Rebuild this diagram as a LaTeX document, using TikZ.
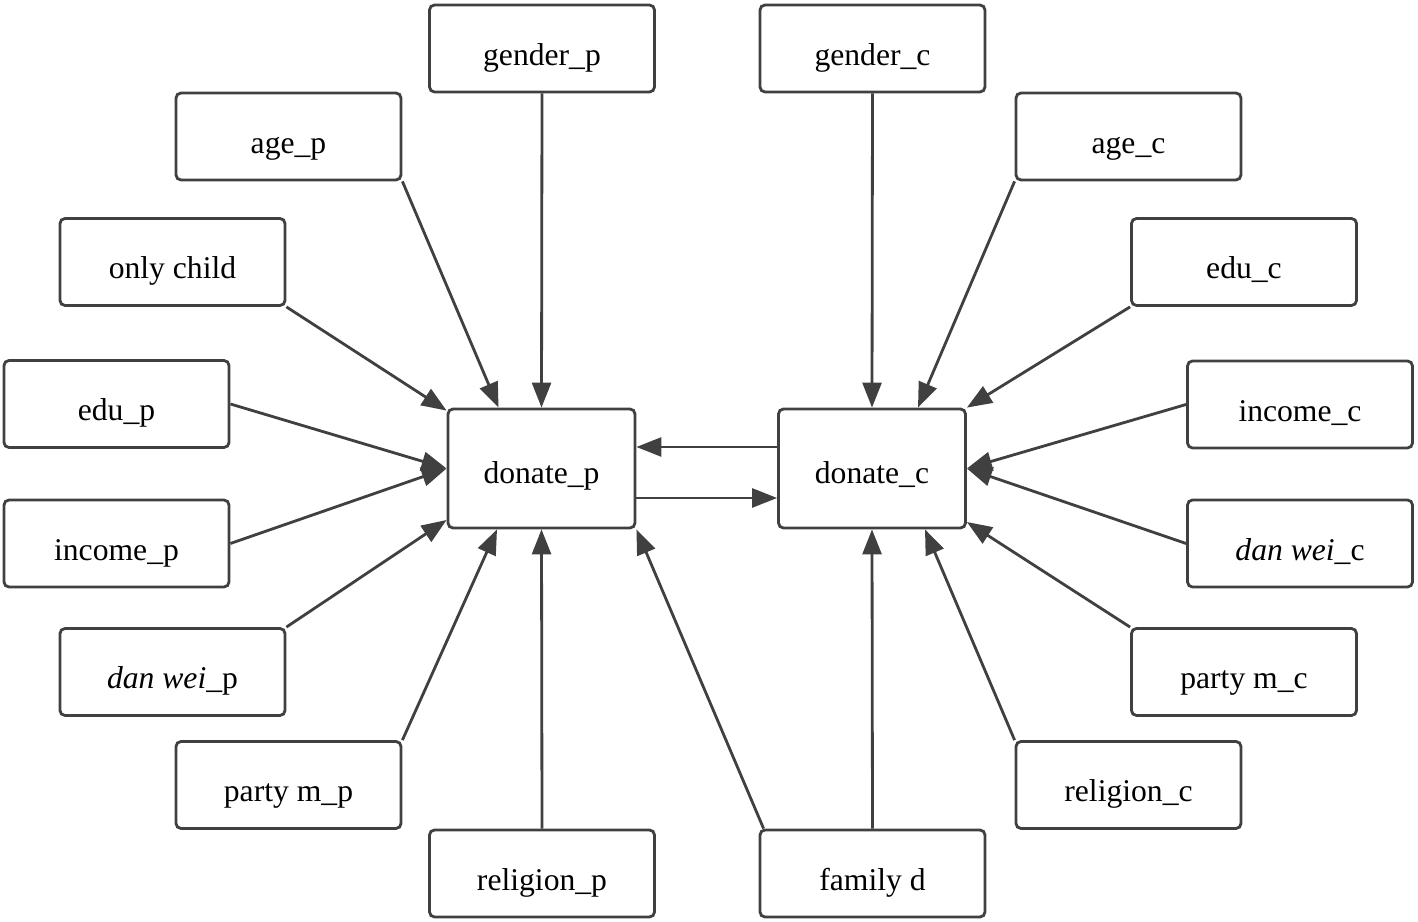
\documentclass[tikz,border=0pt]{standalone}
\usepackage{fontspec}
\setmainfont{Liberation Serif}
\usetikzlibrary{positioning,calc,arrows.meta}
\definecolor{edge}{HTML}{404040}
\tikzset{
	var/.style={draw=edge,line width=1.6pt,rounded corners=0.1cm,minimum width=4.5cm,minimum height=1.74cm,inner sep=0pt,text height=0.87cm,text depth=0.2cm,font=\fontsize{18}{21}\selectfont},
	hub/.style={var,minimum width=3.74cm,minimum height=2.38cm,text height=0.82cm},
	arr/.style={draw=edge,line width=1.6pt,-{Triangle[length=0.5cm,width=0.38cm]}}
}

\begin{document}
\begin{tikzpicture}
	\useasboundingbox (0,0) rectangle (28.36,18.44);
	\node[hub] (dp) at (10.83,9.07) {donate\_p};
	\node[hub] (dc) at (17.44,9.07) {donate\_c};

	\node[var] (genp) at (10.84,17.47) {gender\_p};
	\node[var] (agep) at (5.77,15.71) {age\_p};
	\node[var] (only) at (3.45,13.2) {only child};
	\node[var] (edup) at (2.33,10.36) {edu\_p};
	\node[var] (incp) at (2.33,7.57) {income\_p};
	\node[var] (danp) at (3.45,5.0) {\textit{dan wei}\_p};
	\node[var] (parp) at (5.77,2.74) {party m\_p};
	\node[var] (relp) at (10.84,0.97) {religion\_p};

	\node[var] (genc) at (17.45,17.47) {gender\_c};
	\node[var] (agec) at (22.57,15.71) {age\_c};
	\node[var] (educ) at (24.88,13.2) {edu\_c};
	\node[var] (incc) at (26.0,10.35) {income\_c};
	\node[var] (danc) at (26.0,7.57) {\textit{dan wei}\_c};
	\node[var] (parc) at (24.88,5.0) {party m\_c};
	\node[var] (relc) at (22.57,2.74) {religion\_c};
	\node[var] (fam) at (17.45,0.97) {family d};

	\draw[arr] (genp.south) -- (dp.north);
	\draw[arr] (agep.south east) -- ($(dp.north)+(-0.86,0)$);
	\draw[arr] (only.south east) -- ($(dp.north west)+(0,-0.06)$);
	\draw[arr] (edup.east) -- (dp.west);
	\draw[arr] (incp.east) -- (dp.west);
	\draw[arr] (danp.north east) -- ($(dp.west)+(0,-1.03)$);
	\draw[arr] (parp.north east) -- ($(dp.south)+(-0.89,0)$);
	\draw[arr] (relp.north) -- (dp.south);
	\draw[arr] ($(fam.north west)+(0.1,0)$) -- (dp.south east);

	\draw[arr] (genc.south) -- (dc.north);
	\draw[arr] (agec.south west) -- ($(dc.north)+(0.92,0)$);
	\draw[arr] (educ.south west) -- (dc.north east);
	\draw[arr] (incc.west) -- (dc.east);
	\draw[arr] (danc.west) -- (dc.east);
	\draw[arr] (parc.north west) -- ($(dc.east)+(0,-1.07)$);
	\draw[arr] (relc.north west) -- ($(dc.south)+(1.06,0)$);
	\draw[arr] (fam.north) -- (dc.south);

	\draw[arr] ($(dc.west)+(0,0.43)$) -- ($(dp.east)+(0,0.43)$);
	\draw[arr] ($(dp.east)+(0,-0.59)$) -- ($(dc.west)+(0,-0.59)$);
\end{tikzpicture}
\end{document}
